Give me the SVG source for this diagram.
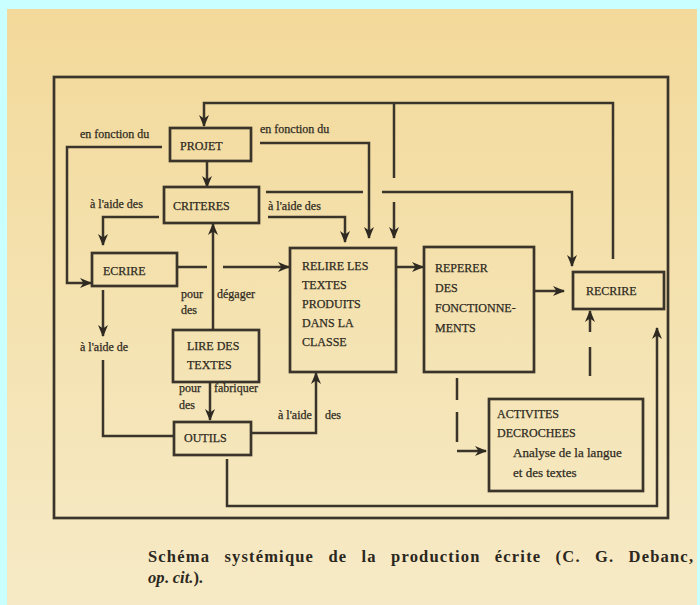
<svg xmlns="http://www.w3.org/2000/svg" width="700" height="605" viewBox="0 0 700 605">
<defs>
<linearGradient id="paper" x1="0" y1="0" x2="0" y2="1">
<stop offset="0" stop-color="#f3d99a"/>
<stop offset="0.5" stop-color="#f4e2b0"/>
<stop offset="1" stop-color="#f6eac6"/>
</linearGradient>
<marker id="ah" viewBox="0 0 12 10" refX="11" refY="5" markerWidth="12" markerHeight="10" markerUnits="userSpaceOnUse" orient="auto">
<path d="M0,0 L12,5 L0,10 L3.5,5 z" fill="#2f2a21"/>
</marker>
<style>
.ln{fill:none;stroke:#3a342a;stroke-width:2.5}
.box{fill:none;stroke:#3a342a;stroke-width:2.7}
.t{font-family:"Liberation Serif","Times New Roman",serif;font-size:12px;fill:#2e2a22;stroke:#2e2a22;stroke-width:0.25}
.tb{font-family:"Liberation Serif","Times New Roman",serif;font-size:13px;fill:#2e2a22;stroke:#2e2a22;stroke-width:0.25}
.cap{font-family:"Liberation Serif","Times New Roman",serif;font-size:16.5px;font-weight:bold;fill:#2b2720}
</style>
</defs>
<rect x="0" y="0" width="700" height="605" fill="#c9ffff"/>
<rect x="7" y="9" width="690" height="596" fill="url(#paper)"/>
<rect id="frame" class="box" x="54" y="77" width="614" height="441"/>

<g id="connectors">
<path class="ln" d="M613,259 V103 H204 V126" marker-end="url(#ah)"/>
<path class="ln" d="M394,103 V178"/>
<path class="ln" d="M394,202 V238" marker-end="url(#ah)"/>
<path class="ln" d="M207,161 V187" marker-end="url(#ah)"/>
<path class="ln" d="M162,147 H67 V283 H91" marker-end="url(#ah)"/>
<path class="ln" d="M260,143 H369 V238" marker-end="url(#ah)"/>
<path class="ln" d="M159,217 H103 V245" marker-end="url(#ah)"/>
<path class="ln" d="M268,217 H345 V242" marker-end="url(#ah)"/>
<path class="ln" d="M266,192 H363"/>
<path class="ln" d="M382,192 H572 V266" marker-end="url(#ah)"/>
<path class="ln" d="M177,267 H207"/>
<path class="ln" d="M223,267 H289" marker-end="url(#ah)"/>
<path class="ln" d="M213,330 V224" marker-end="url(#ah)"/>
<path class="ln" d="M210,382 V420" marker-end="url(#ah)"/>
<path class="ln" d="M103,290 V336" marker-end="url(#ah)"/>
<path class="ln" d="M103,360 V436 H174"/>
<path class="ln" d="M251,433 H316 V373" marker-end="url(#ah)"/>
<path class="ln" d="M227,459 V506 H657 V328" marker-end="url(#ah)"/>
<path class="ln" d="M396,267 H423" marker-end="url(#ah)"/>
<path class="ln" d="M534,291 H564" marker-end="url(#ah)"/>
<path class="ln" d="M457,378 V400 M457,412 V442 M457,451 H486" marker-end="url(#ah)"/>
<path class="ln" d="M590,376 V347 M590,332 V311" marker-end="url(#ah)"/>
</g>

<g id="labels">
<text class="t" x="80" y="138">en fonction du</text>
<text class="t" x="260" y="133">en fonction du</text>
<text class="t" x="90" y="208">à l'aide des</text>
<text class="t" x="268" y="210">à l'aide des</text>
<text class="t" x="181" y="298">pour</text>
<text class="t" x="217" y="298">dégager</text>
<text class="t" x="181" y="314">des</text>
<text class="t" x="179" y="392">pour</text>
<text class="t" x="214" y="392">fabriquer</text>
<text class="t" x="179" y="409">des</text>
<text class="t" x="80" y="351">à l'aide de</text>
<text class="t" x="278" y="419">à l'aide</text>
<text class="t" x="325" y="419">des</text>
</g>

<g id="projet"><rect class="box" x="170" y="128" width="81" height="33"/><text class="t" x="180" y="150">PROJET</text></g>
<g id="criteres"><rect class="box" x="164" y="187" width="95" height="36"/><text class="t" x="173" y="210">CRITERES</text></g>
<g id="ecrire"><rect class="box" x="92" y="253" width="85" height="33"/><text class="t" x="103" y="275">ECRIRE</text></g>
<g id="lire"><rect class="box" x="173" y="330" width="86" height="52"/><text class="t" x="187" y="350">LIRE DES</text><text class="t" x="187" y="369">TEXTES</text></g>
<g id="outils"><rect class="box" x="174" y="422" width="77" height="33"/><text class="t" x="184" y="442">OUTILS</text></g>
<g id="relire"><rect class="box" x="290" y="248" width="106" height="124"/>
<text class="t" x="302" y="270">RELIRE LES</text><text class="t" x="302" y="289">TEXTES</text><text class="t" x="302" y="308">PRODUITS</text><text class="t" x="302" y="327">DANS LA</text><text class="t" x="302" y="346">CLASSE</text></g>
<g id="reperer"><rect class="box" x="424" y="247" width="110" height="125"/>
<text class="t" x="435" y="272">REPERER</text><text class="t" x="435" y="292">DES</text><text class="t" x="435" y="312">FONCTIONNE-</text><text class="t" x="435" y="332">MENTS</text></g>
<g id="recrire"><rect class="box" x="573" y="272" width="91" height="37"/><text class="t" x="586" y="295">RECRIRE</text></g>
<g id="activites"><rect class="box" x="489" y="399" width="154" height="92"/>
<text class="t" x="497" y="418">ACTIVITES</text><text class="t" x="497" y="437">DECROCHEES</text>
<text class="tb" x="513" y="457">Analyse de la langue</text><text class="tb" x="513" y="477">et des textes</text></g>

<g id="caption">
<text class="cap" x="148" y="562" textLength="545" lengthAdjust="spacing" word-spacing="9">Schéma systémique de la production écrite (C. G. Debanc,</text>
<text class="cap" x="148" y="583"><tspan font-style="italic">op</tspan>. <tspan font-style="italic">cit.</tspan>).</text>
</g>
</svg>
